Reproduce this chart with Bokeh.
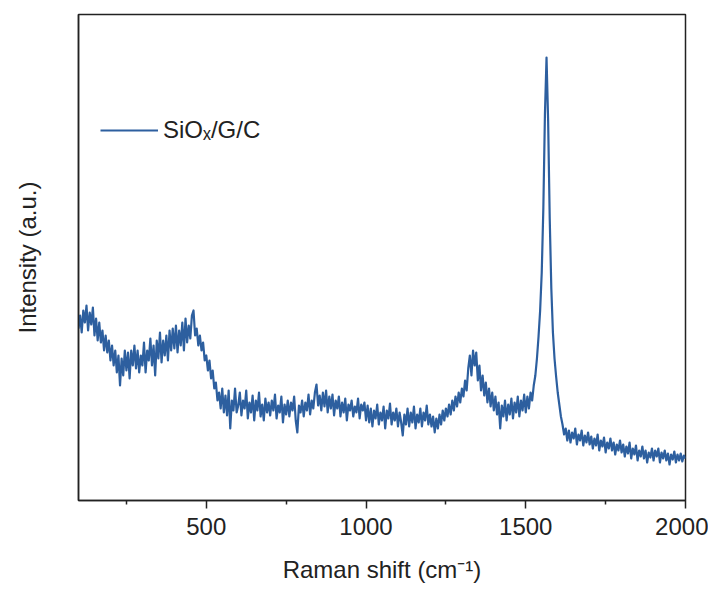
from bokeh.plotting import figure
from bokeh.models import Range1d, FixedTicker, Legend, LegendItem
from bokeh.embed import file_html
from bokeh.resources import INLINE

# Raman shift sampling (cm^-1), one reading every 5 cm^-1
wavenumber = list(range(100, 2001, 5))

# Intensity readings (a.u.), one row per 100 cm^-1
seg_100 = [172, 185, 168, 190, 178, 195, 170, 188, 176, 193, 165, 182, 160, 178, 158, 170, 150, 165, 148, 160]
seg_200 = [140, 155, 135, 150, 128, 145, 115, 142, 125, 150, 130, 148, 122, 150, 135, 155, 132, 150, 128, 145]
seg_300 = [135, 158, 128, 150, 140, 162, 135, 155, 125, 160, 142, 168, 138, 160, 145, 165, 140, 170, 150, 172]
seg_400 = [152, 175, 148, 170, 155, 178, 150, 182, 158, 175, 162, 185, 190, 165, 172, 155, 165, 150, 158, 140]
seg_500 = [145, 130, 140, 122, 130, 112, 118, 100, 108, 92, 112, 88, 105, 85, 110, 72, 100, 90, 112, 88]
seg_600 = [95, 108, 85, 100, 92, 110, 82, 98, 88, 105, 80, 100, 90, 108, 84, 96, 80, 102, 88, 98]
seg_700 = [85, 100, 90, 106, 82, 95, 88, 104, 78, 96, 86, 100, 84, 98, 90, 104, 80, 68, 95, 88]
seg_800 = [100, 84, 98, 90, 106, 86, 100, 92, 108, 116, 95, 105, 90, 108, 94, 110, 88, 104, 92, 106]
seg_900 = [85, 100, 92, 104, 84, 98, 88, 102, 80, 96, 90, 100, 84, 94, 88, 102, 82, 96, 90, 98]
seg_1000 = [80, 95, 78, 92, 74, 90, 82, 96, 76, 88, 80, 94, 72, 90, 82, 97, 76, 88, 80, 92]
seg_1100 = [74, 88, 78, 65, 86, 76, 92, 74, 88, 78, 94, 72, 86, 78, 92, 74, 88, 80, 95, 76]
seg_1200 = [86, 74, 84, 68, 82, 72, 86, 76, 90, 80, 92, 84, 96, 86, 100, 90, 104, 94, 108, 98]
seg_1300 = [112, 104, 120, 110, 132, 145, 125, 150, 135, 148, 120, 135, 110, 125, 105, 118, 98, 112, 94, 108]
seg_1400 = [90, 104, 86, 98, 72, 95, 84, 100, 80, 96, 86, 102, 82, 98, 88, 104, 84, 100, 90, 106]
seg_1500 = [88, 104, 92, 108, 100, 115, 125, 142, 164, 190, 228, 292, 386, 443, 380, 282, 212, 168, 142, 124]
seg_1600 = [108, 96, 84, 76, 66, 72, 60, 70, 58, 68, 62, 72, 56, 66, 60, 70, 55, 65, 58, 68]
seg_1700 = [56, 64, 52, 62, 55, 66, 50, 60, 54, 63, 48, 58, 52, 62, 50, 58, 46, 56, 50, 60]
seg_1800 = [48, 56, 44, 54, 47, 58, 42, 52, 46, 55, 40, 50, 44, 54, 42, 50, 38, 48, 43, 52]
seg_1900 = [40, 50, 44, 52, 38, 48, 42, 50, 40, 47, 36, 46, 41, 49, 38, 46, 40, 47, 39, 45, 42]

intensity = (seg_100 + seg_200 + seg_300 + seg_400 + seg_500 + seg_600 + seg_700 + seg_800
             + seg_900 + seg_1000 + seg_1100 + seg_1200 + seg_1300 + seg_1400 + seg_1500
             + seg_1600 + seg_1700 + seg_1800 + seg_1900)
assert len(intensity) == len(wavenumber)

major_ticks = [500, 1000, 1500, 2000]
minor_ticks = [250, 750, 1250, 1750]
series_label = "SiOₓ/G/C"

FONT = "Liberation Sans"
INK = "#222222"
BLUE = "#2D5F9F"

p = figure(frame_width=607, frame_height=486, output_backend="svg", toolbar_location=None,
           x_range=Range1d(100, 2000), y_range=Range1d(0, 486),
           min_border_left=78, min_border_right=23, min_border_top=14, min_border_bottom=0,
           background_fill_color="white", border_fill_color="white")

p.xgrid.grid_line_color = None
p.ygrid.grid_line_color = None
p.outline_line_color = INK
p.outline_line_width = 1.5
p.outline_line_alpha = 1.0

xa = p.xaxis[0]
xa.ticker = FixedTicker(ticks=major_ticks, minor_ticks=minor_ticks)
xa.axis_line_color = INK
xa.axis_line_width = 1.5
xa.major_tick_line_color = INK
xa.major_tick_line_width = 1.5
xa.major_tick_out = 8
xa.major_tick_in = 0
xa.minor_tick_line_color = INK
xa.minor_tick_line_width = 1.5
xa.minor_tick_out = 4
xa.minor_tick_in = 0
xa.major_label_text_font = FONT
xa.major_label_text_font_size = "24px"
xa.major_label_text_color = INK
xa.major_label_standoff = 9
xa.axis_label = "Raman shift (cm⁻¹)"
xa.axis_label_text_font = FONT
xa.axis_label_text_font_size = "24px"
xa.axis_label_text_font_style = "normal"
xa.axis_label_text_color = INK
xa.axis_label_standoff = 18

ya = p.yaxis[0]
ya.ticker = FixedTicker(ticks=[])
ya.axis_line_color = INK
ya.axis_line_width = 1.5
ya.major_tick_out = 0
ya.major_tick_in = 0
ya.minor_tick_out = 0
ya.minor_tick_in = 0
ya.major_label_standoff = 0
ya.axis_label = "Intensity (a.u.)"
ya.axis_label_text_font = FONT
ya.axis_label_text_font_size = "24px"
ya.axis_label_text_font_style = "normal"
ya.axis_label_text_color = INK
ya.axis_label_standoff = 38

r = p.line(wavenumber, intensity, line_color=BLUE, line_width=2.2, line_join="round")

legend = Legend(items=[LegendItem(label=series_label, renderers=[r])],
                location=(22, 356), padding=0, margin=0, spacing=0,
                glyph_width=58, glyph_height=24, label_standoff=5,
                label_text_font=FONT, label_text_font_size="24px", label_text_color=INK,
                border_line_color=None, background_fill_alpha=0)
p.add_layout(legend)

open("out.html", "w").write(file_html(p, INLINE))
